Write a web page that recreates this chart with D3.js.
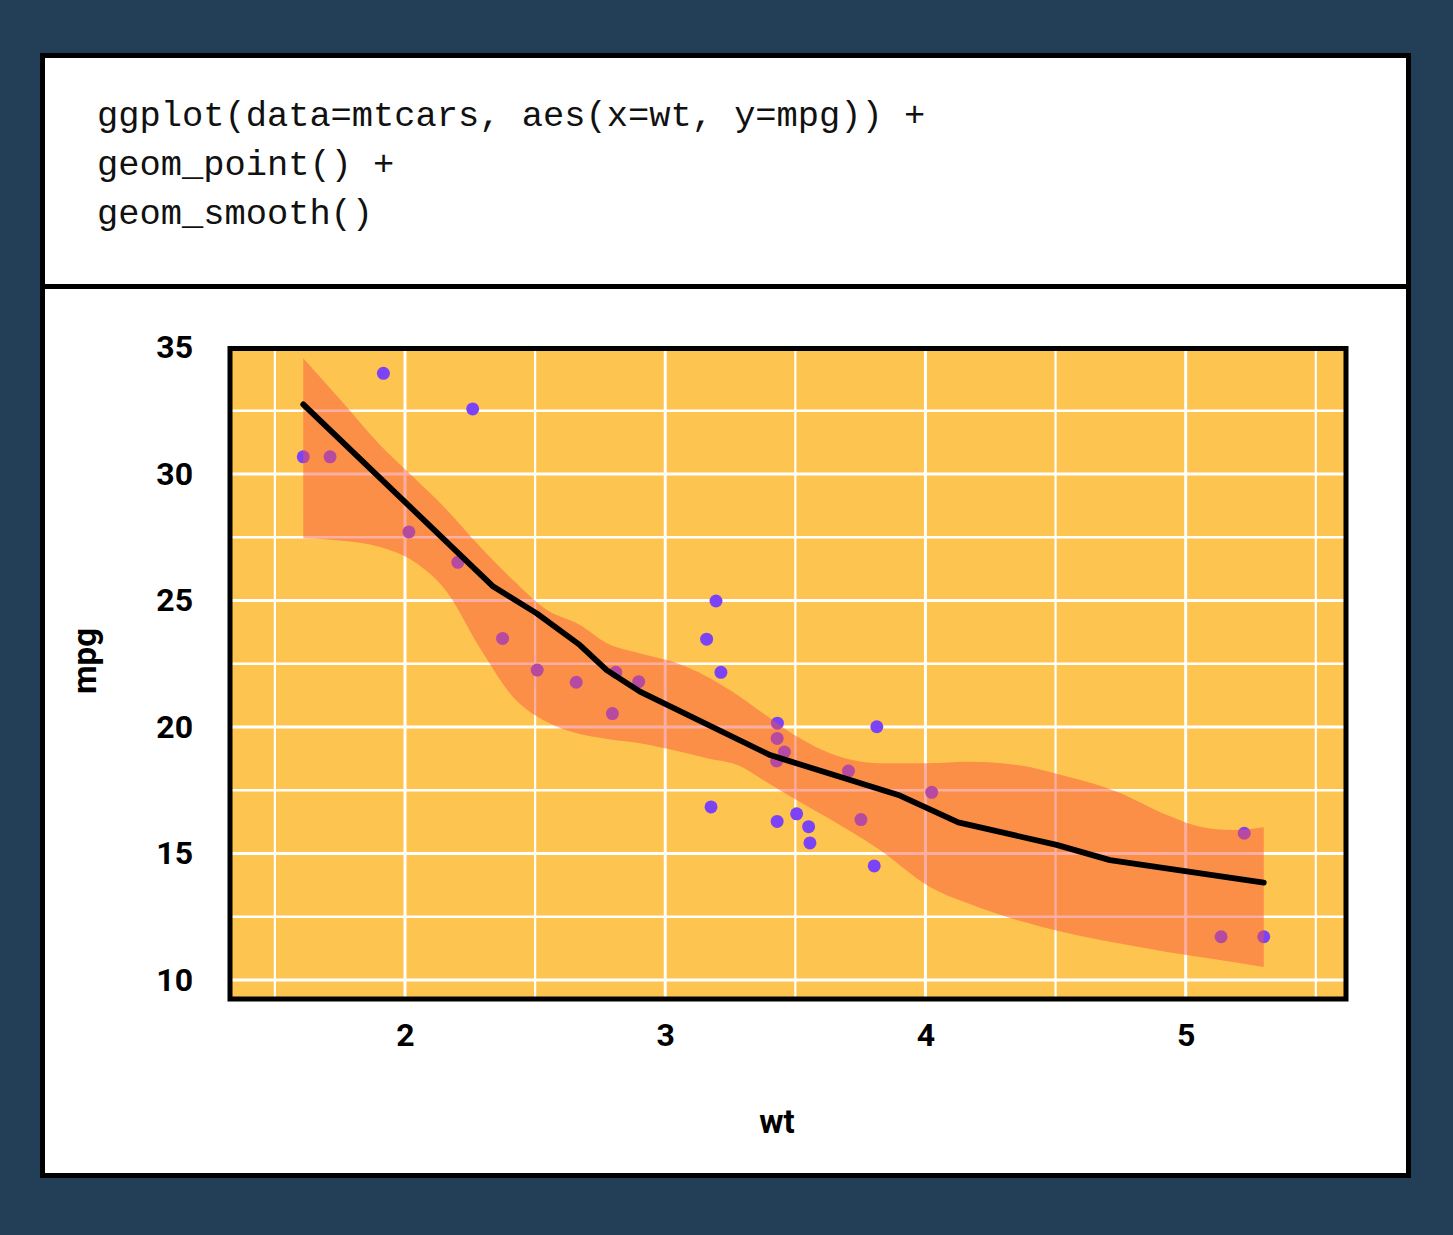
<!DOCTYPE html>
<html>
<head>
<meta charset="utf-8">
<script src="https://cdn.jsdelivr.net/npm/d3@7"></script>
<style>
  body { margin: 0; background: #233f57; }
</style>
</head>
<body>
<div id="chart"></div>
<script>
// code shown above the plot
const codeLines = [
  "ggplot(data=mtcars, aes(x=wt, y=mpg)) +",
  "geom_point() +",
  "geom_smooth()"
];

// points
const wt  = [1.609, 1.712, 1.917, 2.260, 2.015, 2.203, 2.375, 2.508, 2.658, 2.797, 2.810,
             2.898, 3.195, 3.159, 3.214, 3.431, 3.813, 3.430, 3.458, 3.428, 3.704, 4.024,
             3.176, 3.430, 3.505, 3.551, 3.752, 3.556, 3.803, 5.225, 5.136, 5.300];
const mpg = [30.68, 30.68, 33.98, 32.57, 27.71, 26.51, 23.50, 22.25, 21.77, 20.53, 22.16,
             21.79, 24.98, 23.47, 22.16, 20.15, 20.01, 19.55, 19.01, 18.66, 18.26, 17.42,
             16.84, 16.27, 16.57, 16.06, 16.34, 15.42, 14.51, 15.80, 11.71, 11.71];

// smooth line
const smoothWt  = [1.609, 2.339, 2.506, 2.672, 2.775, 2.903, 3.403, 3.902, 4.126, 4.504, 4.709, 5.300];
const smoothMpg = [32.75, 25.55, 24.49, 23.24, 22.25, 21.40, 18.89, 17.29, 16.23, 15.34, 14.74, 13.85];

// confidence band
const bandWt    = [1.609, 1.750, 1.904, 2.031, 2.161, 2.288, 2.415, 2.546, 2.672, 2.776, 2.903,
                   3.030, 3.161, 3.287, 3.376, 3.506, 3.633, 3.825, 4.017, 4.160, 4.352, 4.544,
                   4.736, 4.928, 5.055, 5.182, 5.300];
const bandUpper = [34.57, 32.95, 31.15, 29.89, 28.58, 27.13, 25.81, 24.62, 24.03, 23.31, 22.91,
                   22.58, 21.99, 21.20, 20.54, 19.62, 18.96, 18.57, 18.57, 18.63, 18.50, 18.04,
                   17.44, 16.52, 16.06, 15.93, 16.04];
const bandLower = [27.46, 27.37, 27.11, 26.56, 25.34, 23.12, 21.19, 20.20, 19.72, 19.53, 19.36,
                   19.09, 18.77, 18.46, 17.91, 17.11, 16.36, 15.14, 13.68, 13.04, 12.37, 11.86,
                   11.46, 11.11, 10.91, 10.71, 10.51];

const xTicks = [2, 3, 4, 5];
const yTicks = [10, 15, 20, 25, 30, 35];
const xMinor = [1.5, 2.5, 3.5, 4.5, 5.5];
const yMinor = [12.5, 17.5, 22.5, 27.5, 32.5];

const W = 1453, H = 1235;
const panel = {left: 230, right: 1346, top: 348.5, bottom: 999};

const svg = d3.select("#chart")
  .append("svg")
  .attr("width", W)
  .attr("height", H);

svg.append("rect")
  .attr("width", W).attr("height", H)
  .attr("fill", "#233f57");

// white card
svg.append("rect")
  .attr("x", 42.5).attr("y", 55.5)
  .attr("width", 1366).attr("height", 1120)
  .attr("fill", "#ffffff")
  .attr("stroke", "#000")
  .attr("stroke-width", 5);

svg.append("line")
  .attr("x1", 42.5).attr("x2", 1408.5)
  .attr("y1", 286.5).attr("y2", 286.5)
  .attr("stroke", "#000")
  .attr("stroke-width", 5);

svg.append("g")
  .selectAll("text")
  .data(codeLines)
  .join("text")
  .attr("x", 97)
  .attr("y", (d, i) => 126 + i * 49)
  .attr("font-family", "'Liberation Mono', 'DejaVu Sans Mono', monospace")
  .attr("font-size", "35.4px")
  .attr("fill", "#111")
  .style("white-space", "pre")
  .text(d => d);

const x = d3.scaleLinear().domain([1.3275, 5.616]).range([panel.left, panel.right]);
const y = d3.scaleLinear().domain([9.25, 34.96]).range([panel.bottom, panel.top]);

svg.append("clipPath").attr("id", "clip")
  .append("rect")
  .attr("x", panel.left).attr("y", panel.top)
  .attr("width", panel.right - panel.left)
  .attr("height", panel.bottom - panel.top);

const plot = svg.append("g").attr("clip-path", "url(#clip)");

plot.append("rect")
  .attr("x", panel.left).attr("y", panel.top)
  .attr("width", panel.right - panel.left)
  .attr("height", panel.bottom - panel.top)
  .attr("fill", "#fdc44f");

// grid: minor then major
plot.selectAll(".vminor").data(xMinor).join("line")
  .attr("x1", d => x(d)).attr("x2", d => x(d))
  .attr("y1", panel.top).attr("y2", panel.bottom)
  .attr("stroke", "#fff").attr("stroke-width", 2.2);
plot.selectAll(".hminor").data(yMinor).join("line")
  .attr("y1", d => y(d)).attr("y2", d => y(d))
  .attr("x1", panel.left).attr("x2", panel.right)
  .attr("stroke", "#fff").attr("stroke-width", 2.4);
plot.selectAll(".vmajor").data(xTicks).join("line")
  .attr("x1", d => x(d)).attr("x2", d => x(d))
  .attr("y1", panel.top).attr("y2", panel.bottom)
  .attr("stroke", "#fff").attr("stroke-width", 3);
plot.selectAll(".hmajor").data(yTicks).join("line")
  .attr("y1", d => y(d)).attr("y2", d => y(d))
  .attr("x1", panel.left).attr("x2", panel.right)
  .attr("stroke", "#fff").attr("stroke-width", 3.2);

// points
plot.selectAll("circle").data(d3.zip(wt, mpg)).join("circle")
  .attr("cx", d => x(d[0]))
  .attr("cy", d => y(d[1]))
  .attr("r", 6.5)
  .attr("fill", "#7b43f5");

// ribbon
const band = d3.zip(bandWt, bandLower, bandUpper);
const area = d3.area()
  .x(d => x(d[0]))
  .y0(d => y(d[1]))
  .y1(d => y(d[2]))
  .curve(d3.curveMonotoneX);
plot.append("path")
  .datum(band)
  .attr("d", area)
  .attr("fill", "#f8533f")
  .attr("fill-opacity", 0.47);

// smooth line
const line = d3.line()
  .x(d => x(d[0]))
  .y(d => y(d[1]));
plot.append("path")
  .datum(d3.zip(smoothWt, smoothMpg))
  .attr("d", line)
  .attr("fill", "none")
  .attr("stroke", "#000")
  .attr("stroke-width", 5.8)
  .attr("stroke-linecap", "round")
  .attr("stroke-linejoin", "round");

// panel border
svg.append("rect")
  .attr("x", panel.left).attr("y", panel.top)
  .attr("width", panel.right - panel.left)
  .attr("height", panel.bottom - panel.top)
  .attr("fill", "none")
  .attr("stroke", "#000")
  .attr("stroke-width", 5);

// axes
svg.append("g")
  .attr("class", "axis")
  .attr("transform", `translate(0,${panel.bottom})`)
  .call(d3.axisBottom(x).tickValues(xTicks).tickSize(0).tickPadding(24).tickFormat(d3.format("d")));
svg.append("g")
  .attr("class", "axis")
  .attr("transform", `translate(${panel.left},0)`)
  .call(d3.axisLeft(y).tickValues(yTicks).tickSize(0).tickPadding(37).tickFormat(d3.format("d")));

svg.selectAll(".axis .domain").remove();
svg.selectAll(".axis text")
  .attr("fill", "#000")
  .style("font-family", "Roboto, 'Liberation Sans', sans-serif")
  .style("font-weight", 700)
  .style("font-size", "32px");

// axis titles
svg.append("text")
  .attr("x", 777).attr("y", 1133)
  .attr("text-anchor", "middle")
  .style("font-family", "Roboto, 'Liberation Sans', sans-serif")
  .style("font-weight", 700)
  .style("font-size", "33px")
  .text("wt");

svg.append("text")
  .attr("transform", "translate(96,661) rotate(-90)")
  .attr("text-anchor", "middle")
  .style("font-family", "Roboto, 'Liberation Sans', sans-serif")
  .style("font-weight", 700)
  .style("font-size", "33px")
  .text("mpg");
</script>
</body>
</html>
